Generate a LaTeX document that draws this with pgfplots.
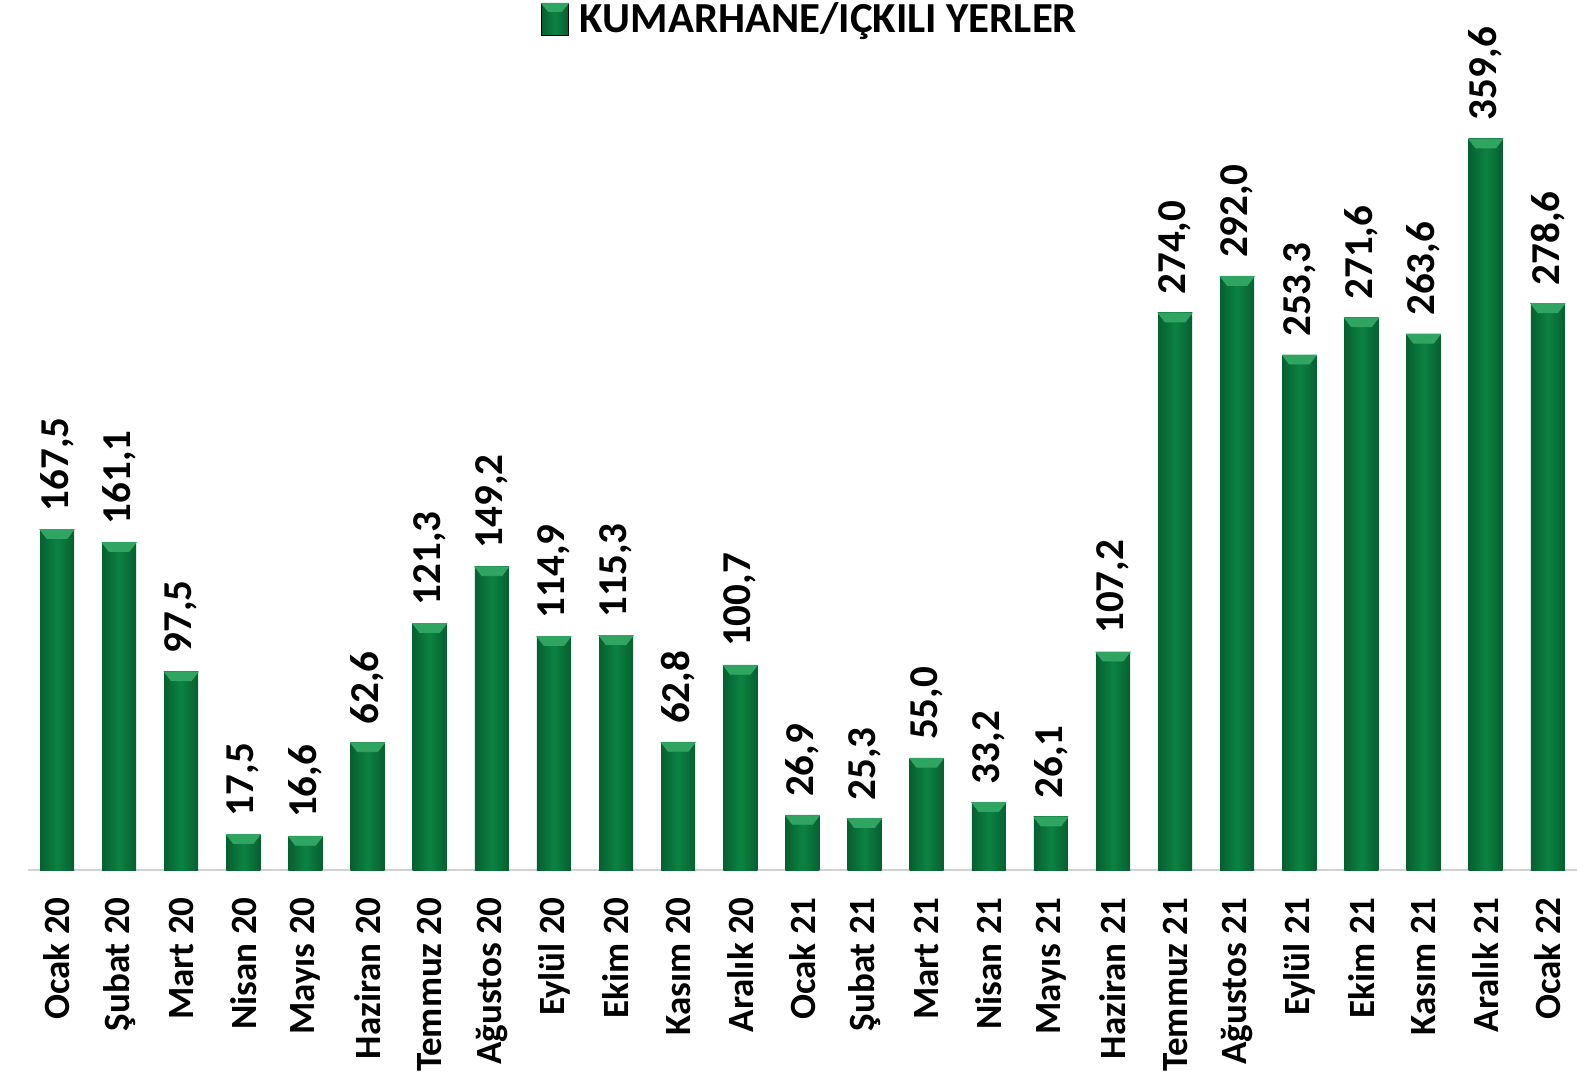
\documentclass[border=0pt]{standalone}
\usepackage{pgfplots}
\pgfplotsset{compat=1.18}
\usepackage{pgfplotstable}
\usepackage{fontspec}
\setmainfont{Carlito}
\definecolor{gmid}{RGB}{12,130,66}
\definecolor{gedge}{RGB}{6,96,48}
\definecolor{bevelc}{RGB}{48,165,98}
\pgfdeclareplotmark{bevel}{\fill[bevelc] (-8.5pt,0pt) -- (8.5pt,0pt) -- (5pt,-4.5pt) -- (-5pt,-4.5pt) -- cycle;}
\pgfplotstableread{
x y lab
0 167.5 167,5
1 161.1 161,1
2 97.5 97,5
3 17.5 17,5
4 16.6 16,6
5 62.6 62,6
6 121.3 121,3
7 149.2 149,2
8 114.9 114,9
9 115.3 115,3
10 62.8 62,8
11 100.7 100,7
12 26.9 26,9
13 25.3 25,3
14 55.0 55,0
15 33.2 33,2
16 26.1 26,1
17 107.2 107,2
18 274.0 274,0
19 292.0 292,0
20 253.3 253,3
21 271.6 271,6
22 263.6 263,6
23 359.6 359,6
24 278.6 278,6
}\data
\begin{document}
\begin{tikzpicture}
\useasboundingbox (0,0) rectangle (788.5pt,544.5pt);
\begin{axis}[
  at={(14pt,109.5pt)}, anchor=south west,
  scale only axis, width=774.5pt, height=406.6pt,
  xmin=-0.467, xmax=24.47, ymin=0, ymax=400,
  clip=false,
  hide y axis,
  axis x line=bottom,
  x axis line style={-, draw=gray!35, line width=1pt},
  xtick={0,...,24},
  xticklabels={Ocak 20,Şubat 20,Mart 20,Nisan 20,Mayıs 20,Haziran 20,Temmuz 20,Ağustos 20,Eylül 20,Ekim 20,Kasım 20,Aralık 20,Ocak 21,Şubat 21,Mart 21,Nisan 21,Mayıs 21,Haziran 21,Temmuz 21,Ağustos 21,Eylül 21,Ekim 21,Kasım 21,Aralık 21,Ocak 22},
  major tick length=0pt,
  xticklabel style={rotate=90, anchor=east, inner sep=0pt, font=\fontsize{18.5}{18.5}\selectfont\bfseries},
  xticklabel shift=13.5pt,
  legend style={at={(0.5055,1.046)}, anchor=center, draw=none, fill=none, font=\fontsize{21.4}{21.4}\selectfont\bfseries},
]
\pgfplotsinvokeforeach{0,...,24}{
\addplot[ybar, bar width=17pt, bar shift=0pt, draw=none, left color=gedge, right color=gedge, middle color=gmid, forget plot]
  table[x=x, y=y, restrict x to domain=#1:#1]{\data};
}
\addplot[only marks, mark=bevel, forget plot,
  nodes near coords, point meta=explicit symbolic,
  every node near coord/.append style={rotate=90, anchor=west, inner sep=0pt, inner xsep=9pt, black, font=\fontsize{20.5}{20.5}\selectfont\bfseries}]
  table[x=x, y=y, meta=lab]{\data};
\addlegendimage{legend image code/.code={%
  \path[left color=gedge, right color=gedge, middle color=gmid] (0pt,-8pt) rectangle (13.5pt,8pt);
  \fill[bevelc] (0pt,8pt) -- (13.5pt,8pt) -- (10pt,4pt) -- (3.5pt,4pt) -- cycle;
  \path (17pt,0pt);}}
\addlegendentry{KUMARHANE/IÇKILI YERLER}
\end{axis}
\end{tikzpicture}
\end{document}
